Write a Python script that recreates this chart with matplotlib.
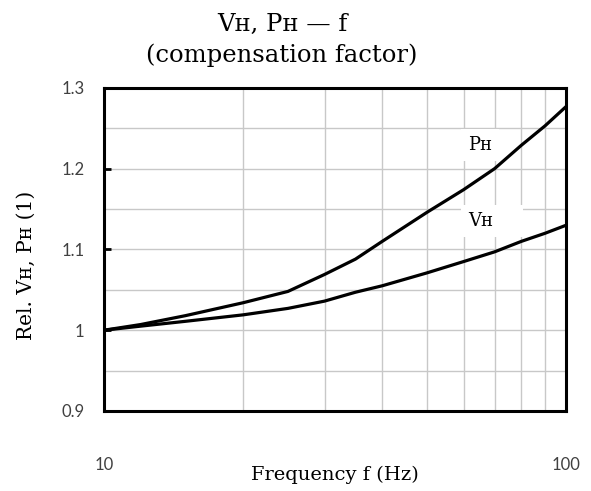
import matplotlib
matplotlib.use("Agg")
import matplotlib.pyplot as plt
from matplotlib.ticker import FixedLocator, NullFormatter, FixedFormatter

# values
freq = [10, 12, 15, 20, 25, 30, 35, 40, 50, 60, 70, 80, 90, 100]
p_h = [1.0, 1.007, 1.018, 1.034, 1.048, 1.069, 1.088, 1.110, 1.146, 1.174, 1.200, 1.229, 1.253, 1.277]
v_h = [1.0, 1.005, 1.011, 1.019, 1.027, 1.036, 1.047, 1.055, 1.071, 1.085, 1.097, 1.110, 1.120, 1.130]

y_ticks = [0.9, 1.0, 1.1, 1.2, 1.3]
y_tick_labels = ["0.9", "1", "1.1", "1.2", "1.3"]
y_grid = [0.95, 1.05, 1.15, 1.25]
x_grid = [20, 30, 40, 50, 60, 70, 80, 90]

serif = "DejaVu Serif"
tick_font = "Lato"

fig = plt.figure(figsize=(5.91, 4.91), dpi=100)
ax = fig.add_axes([0.176, 0.163, 0.782, 0.658])

ax.plot(freq, p_h, color="black", lw=2.3, solid_joinstyle="round", zorder=3)
ax.plot(freq, v_h, color="black", lw=2.3, solid_joinstyle="round", zorder=3)

ax.set_xscale("log")
ax.set_xlim(10, 100)
ax.set_ylim(0.9, 1.3)

ax.xaxis.set_major_locator(FixedLocator([10, 100]))
ax.xaxis.set_major_formatter(FixedFormatter(["10", "100"]))
ax.xaxis.set_minor_locator(FixedLocator(x_grid))
ax.xaxis.set_minor_formatter(NullFormatter())
ax.yaxis.set_major_locator(FixedLocator(y_ticks))
ax.yaxis.set_major_formatter(FixedFormatter(y_tick_labels))
ax.yaxis.set_minor_locator(FixedLocator(y_grid))

ax.grid(True, which="both", color="#c8c8c8", lw=1.0, zorder=0)
ax.set_axisbelow(True)

ax.tick_params(axis="x", which="both", length=0, pad=33, labelsize=12, labelcolor="#404040")
ax.tick_params(axis="y", which="major", direction="in", length=5, width=2, pad=14,
               labelsize=12, labelcolor="#404040")
ax.tick_params(axis="y", which="minor", length=0)
for lab in ax.get_xticklabels() + ax.get_yticklabels():
    lab.set_fontfamily(tick_font)

for s in ax.spines.values():
    s.set_linewidth(2.2)
    s.set_color("black")

ax.set_xlabel("Frequency f (Hz)", fontfamily=serif, fontsize=14)
ax.xaxis.set_label_coords(0.5, -0.17)
ax.set_ylabel("Rel. V\u029c, P\u029c (1)", fontfamily=serif, fontsize=14.5)
ax.yaxis.set_label_coords(-0.147, 0.45)

ax.text(61.4, 1.229, "P\u029c", fontfamily=serif, fontsize=13, va="center", ha="left",
        bbox=dict(boxstyle="square,pad=0.4", fc="white", ec="none"), zorder=2)
ax.text(61.4, 1.135, "V\u029c    ", fontfamily=serif, fontsize=13, va="center", ha="left",
        bbox=dict(boxstyle="square,pad=0.4", fc="white", ec="none"), zorder=2)

fig.text(0.477, 0.974, "V\u029c, P\u029c \u2014 f\n(compensation factor)", fontfamily=serif,
         fontsize=17.5, ha="center", va="top", linespacing=1.42)

fig.savefig("out.png", dpi=100)
